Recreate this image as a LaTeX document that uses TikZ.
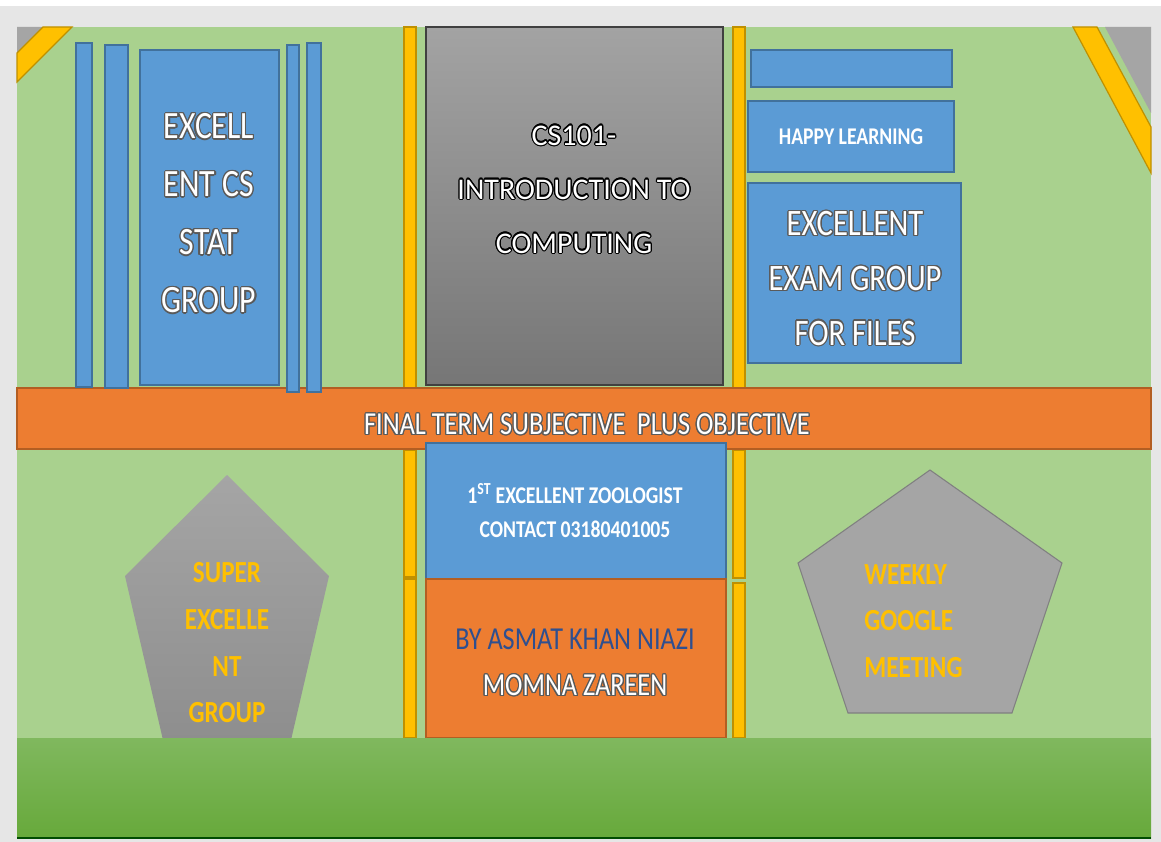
\documentclass[tikz,border=0pt]{standalone}
\usepackage{fontspec}
\setmainfont{Carlito}
\newfontfamily\condfont[FakeStretch=0.82]{Carlito}
\usepackage{contour}
\contourlength{0.9pt}
\definecolor{bggreen}{HTML}{A9D18E}
\definecolor{framegray}{HTML}{E6E6E6}
\definecolor{cornergray}{HTML}{A5A5A5}
\definecolor{bluefill}{HTML}{5B9BD5}
\definecolor{blueedge}{HTML}{41719C}
\definecolor{orangefill}{HTML}{ED7D31}
\definecolor{orangeedge}{HTML}{B35E22}
\definecolor{yellowfill}{HTML}{FFC000}
\definecolor{yellowedge}{HTML}{BF9000}
\definecolor{graytop}{HTML}{A3A3A3}
\definecolor{graybot}{HTML}{767676}
\definecolor{pentfill}{HTML}{A5A5A5}
\definecolor{pentbot}{HTML}{8E8E8E}
\definecolor{bandtop}{HTML}{80B85E}
\definecolor{bandbot}{HTML}{67A93B}
\definecolor{outlgray}{HTML}{5A5A5A}
\definecolor{authorblue}{HTML}{2F4F8F}
\newcommand{\olt}[2][outlgray]{\contour{#1}{#2}}

\begin{document}
\begin{tikzpicture}[x=0.75pt,y=0.75pt,yscale=-1,xscale=1,
  bluebox/.style={draw=blueedge,fill=bluefill,line width=1.2pt},
  orangebox/.style={draw=orangeedge,fill=orangefill,line width=1.2pt},
  yellowbar/.style={draw=yellowedge,fill=yellowfill,line width=0.9pt},
  whitetext/.style={text=white,align=center,inner sep=0.75pt},
  goldtext/.style={text=yellowfill,inner sep=0.75pt,font=\condfont\bfseries\fontsize{23}{35}\selectfont}]
\useasboundingbox (0,0) rectangle (1161,842);

%Shape: Frame
\fill [white] (0,0) rectangle (1161,842) ;
\fill [framegray] (0,6) rectangle (1161,842) ;
\fill [bggreen] (17,27) rectangle (1151,838) ;

%Shape: Corner triangles
\fill [cornergray] (17,27) -- (43,27) -- (17,53) -- cycle ;
\draw [yellowbar] (43,27) -- (72,27) -- (17,82) -- (17,53) -- cycle ;
\fill [cornergray] (1105,27) -- (1151,27) -- (1151,113) -- cycle ;
\draw [yellowbar] (1073,27) -- (1097,27) -- (1151,127) -- (1151,173) -- cycle ;

%Shape: Yellow bars
\draw [yellowbar] (404,27) rectangle (416,388) ;
\draw [yellowbar] (733,27) rectangle (745,388) ;
\draw [yellowbar] (404,450) rectangle (416,577) ;
\draw [yellowbar] (404,579) rectangle (416,738) ;
\draw [yellowbar] (733,450) rectangle (745,578) ;
\draw [yellowbar] (733,583) rectangle (745,738) ;

%Shape: Rectangle (course title)
\path [draw=black!75,line width=1pt,top color=graytop,bottom color=graybot] (426,27) rectangle (723,385) ;

%Shape: Rectangle (final term bar)
\draw [orangebox] (17,388) rectangle (1151,449) ;

%Shape: Left blue bars
\draw [bluebox] (76,43) rectangle (92,387) ;
\draw [bluebox] (105,45) rectangle (128,388) ;
\draw [bluebox] (140,50) rectangle (279,385) ;
\draw [bluebox] (287,45) rectangle (299,392) ;
\draw [bluebox] (307,43) rectangle (321,392) ;

%Shape: Right blue boxes
\draw [bluebox] (751,50) rectangle (952,87) ;
\draw [bluebox] (748,101) rectangle (954,172) ;
\draw [bluebox] (748,183) rectangle (961,363) ;

%Shape: Lower boxes
\draw [bluebox] (426,443) rectangle (726,579) ;
\draw [orangebox] (426,579) rectangle (726,738) ;

%Shape: Pentagons
\path [top color=pentfill,bottom color=pentbot] (227,475) -- (329,576) -- (291,740) -- (163,740) -- (125,576) -- cycle ;
\draw [draw=black!50,line width=0.8pt,fill=pentfill] (930,470) -- (1062,563) -- (1012,713) -- (848,713) -- (798,563) -- cycle ;

%Shape: Grass band
\path [top color=bandtop,bottom color=bandbot] (17,738) rectangle (1151,838) ;
\draw [green!30!black,line width=1pt] (17,838) -- (1151,838) ;

% Text Node
\draw (209,214) node (statgroup) [whitetext,font=\condfont\fontsize{29}{43.5}\selectfont] {\olt{EXCELL}\\\olt{ENT CS}\\\olt{STAT}\\\olt{GROUP}};
% Text Node
\draw (574,190) node (course) [whitetext,font=\fontsize{22.5}{40.5}\selectfont] {\olt[black]{CS101-}\\\olt[black]{INTRODUCTION TO}\\\olt[black]{COMPUTING}};
% Text Node
\draw (851,137) node (happy) [whitetext,font=\condfont\bfseries\fontsize{18}{22}\selectfont] {HAPPY LEARNING};
% Text Node
\draw (855,279) node (examgroup) [whitetext,font=\condfont\fontsize{28}{41}\selectfont] {\olt{EXCELLENT}\\\olt{EXAM GROUP}\\\olt{FOR FILES}};
% Text Node
\draw (587,425) node (finalterm) [whitetext,font=\condfont\fontsize{24}{28}\selectfont] {\olt{FINAL TERM SUBJECTIVE\ \ PLUS OBJECTIVE}};
% Text Node
\draw (575,511) node (zoologist) [whitetext,font=\condfont\bfseries\fontsize{18}{26}\selectfont] {1\textsuperscript{ST} EXCELLENT ZOOLOGIST\\CONTACT 03180401005};
% Text Node
\draw (575,663) node (authors) [whitetext,font=\condfont\fontsize{24}{34.5}\selectfont] {\textcolor{authorblue}{BY ASMAT KHAN NIAZI}\\\olt{MOMNA ZAREEN}};
% Text Node
\draw (227,643) node (supergroup) [goldtext,align=center] {SUPER\\EXCELLE\\NT\\GROUP};
% Text Node
\draw (863,621) node (weekly) [goldtext,align=left,anchor=west] {WEEKLY\\GOOGLE\\MEETING};

\end{tikzpicture}
\end{document}
